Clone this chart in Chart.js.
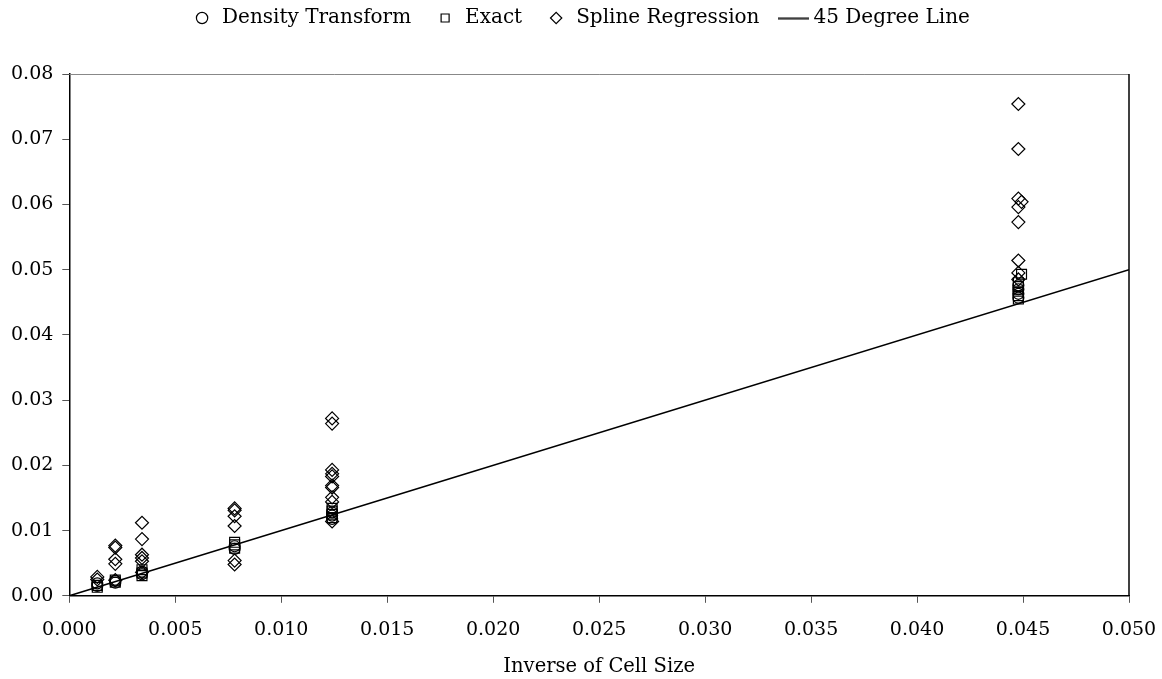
<!DOCTYPE html>
<html>
<head>
<meta charset="utf-8">
<script src="https://cdn.jsdelivr.net/npm/chart.js@4/dist/chart.umd.min.js"></script>
<style>
  html, body { margin: 0; padding: 0; background: #fff; }
  #wrap { width: 1162px; height: 679px; }
</style>
</head>
<body>
<div id="wrap"><canvas id="chart"></canvas></div>
<script>
// inverse of cell size, one x per point
var densityX = [0.00132, 0.00132, 0.00217, 0.00217, 0.00343, 0.00343, 0.0078, 0.0078,
  0.0124, 0.0124, 0.0124, 0.04478, 0.04478, 0.04478, 0.04478]
var densityY = [0.0015, 0.0019, 0.0020, 0.0023, 0.0033, 0.0037, 0.0072, 0.0076,
  0.0118, 0.0123, 0.0128, 0.0457, 0.0463, 0.0470, 0.0476]

var exactX = [0.00132, 0.00132, 0.00217, 0.00217, 0.00343, 0.00343, 0.00343, 0.0078, 0.0078, 0.0078,
  0.0124, 0.0124, 0.0124, 0.0124, 0.04478, 0.04478, 0.04478, 0.04478, 0.04478, 0.04493]
var exactY = [0.0013, 0.0016, 0.0021, 0.0024, 0.0031, 0.0035, 0.0040, 0.0073, 0.0078, 0.0082,
  0.0120, 0.0125, 0.0130, 0.0134, 0.0455, 0.0460, 0.0467, 0.0474, 0.0480, 0.0493]

var splineX = [0.00132, 0.00132, 0.00217, 0.00217, 0.00217, 0.00217, 0.00217,
  0.00343, 0.00343, 0.00343, 0.00343, 0.00343, 0.00343,
  0.0078, 0.0078, 0.0078, 0.0078, 0.0078, 0.0078,
  0.0124, 0.0124, 0.0124, 0.0124, 0.0124, 0.0124, 0.0124, 0.0124, 0.0124, 0.0124,
  0.04478, 0.04478, 0.04478, 0.04493, 0.04478, 0.04478, 0.04478, 0.04478, 0.04478]
var splineY = [0.0029, 0.0025, 0.0077, 0.0074, 0.0056, 0.0049, 0.0024,
  0.0112, 0.0087, 0.0063, 0.0058, 0.0053, 0.0036,
  0.0134, 0.0131, 0.0122, 0.0107, 0.0054, 0.0048,
  0.0272, 0.0264, 0.0193, 0.0187, 0.0183, 0.0169, 0.0166, 0.0151, 0.0144, 0.0114,
  0.0754, 0.0685, 0.0609, 0.0604, 0.0596, 0.0573, 0.0514, 0.0495, 0.0485]

var lineX = [0, 0.05]
var lineY = [0, 0.05]

var seriesNames = ['Density Transform', 'Exact', 'Spline Regression', '45 Degree Line']

function pts(xs, ys) {
  return xs.map(function(x, i) { return {x: x, y: ys[i]} })
}

// longer dash for the line entry in the legend
var dash = document.createElement('canvas')
dash.width = 31
dash.height = 3
var dctx = dash.getContext('2d')
dctx.fillStyle = '#000'
dctx.fillRect(0, 1, 31, 1.5)

// legend is tall so the plot starts well below it
var legendGap = {
  id: 'legendGap',
  beforeInit: function(chart) {
    var fit = chart.legend.fit
    chart.legend.fit = function() {
      fit.call(this)
      this.height = 90
    }
  }
}

var frame = {
  id: 'frame',
  afterDraw: function(chart) {
    var a = chart.chartArea, ctx = chart.ctx
    ctx.save()
    ctx.lineWidth = 1
    ctx.strokeStyle = '#888'
    ctx.beginPath()
    ctx.moveTo(a.left, a.top + 0.5)
    ctx.lineTo(a.right, a.top + 0.5)
    ctx.stroke()
    ctx.strokeStyle = '#000'
    ctx.lineWidth = 1.5
    ctx.beginPath()
    ctx.moveTo(a.right, a.top)
    ctx.lineTo(a.right, a.bottom)
    ctx.stroke()
    ctx.restore()
  }
}

Chart.defaults.font.family = '"DejaVu Serif", serif'
Chart.defaults.font.size = 19
Chart.defaults.color = '#000'

new Chart(document.getElementById('chart'), {
  type: 'scatter',
  data: {
    datasets: [
      {
        label: seriesNames[0],
        data: pts(densityX, densityY),
        pointStyle: 'circle',
        pointRadius: 5.5,
        borderColor: '#000',
        backgroundColor: 'rgba(0,0,0,0)',
        borderWidth: 1.2
      },
      {
        label: seriesNames[1],
        data: pts(exactX, exactY),
        pointStyle: 'rect',
        pointRadius: 7,
        borderColor: '#000',
        backgroundColor: 'rgba(0,0,0,0)',
        borderWidth: 1.2
      },
      {
        label: seriesNames[2],
        data: pts(splineX, splineY),
        pointStyle: 'rectRot',
        pointRadius: 6.5,
        borderColor: '#000',
        backgroundColor: 'rgba(0,0,0,0)',
        borderWidth: 1.2
      },
      {
        type: 'line',
        label: seriesNames[3],
        data: pts(lineX, lineY),
        pointStyle: dash,
        pointRadius: 0,
        borderColor: '#000',
        borderWidth: 1.5,
        backgroundColor: '#000'
      }
    ]
  },
  options: {
    responsive: true,
    maintainAspectRatio: false,
    animation: false,
    layout: { padding: { left: 2, right: 2, top: -16, bottom: 0 } },
    plugins: {
      tooltip: { enabled: false },
      legend: {
        position: 'top',
        labels: {
          usePointStyle: true,
          boxWidth: 28,
          boxHeight: 8,
          padding: 24,
          color: '#000',
          font: { size: 20 }
        }
      }
    },
    scales: {
      x: {
        type: 'linear',
        min: 0,
        max: 0.05,
        afterFit: function(scale) { scale.paddingRight = 33 },
        ticks: {
          stepSize: 0.005,
          padding: 16,
          callback: function(v) { return v.toFixed(3) }
        },
        grid: { drawOnChartArea: false, drawTicks: true, tickLength: 7, color: '#555' },
        border: { color: '#000', width: 1.5 },
        title: { display: true, text: 'Inverse of Cell Size', font: { size: 19.5 }, padding: { top: -2, bottom: 0 } }
      },
      y: {
        type: 'linear',
        min: 0,
        max: 0.08,
        ticks: {
          stepSize: 0.01,
          padding: 9,
          callback: function(v) { return v.toFixed(2) }
        },
        grid: { drawOnChartArea: false, drawTicks: true, tickLength: 7, color: '#555' },
        border: { color: '#000', width: 1.5 }
      }
    }
  },
  plugins: [legendGap, frame]
})
</script>
</body>
</html>
